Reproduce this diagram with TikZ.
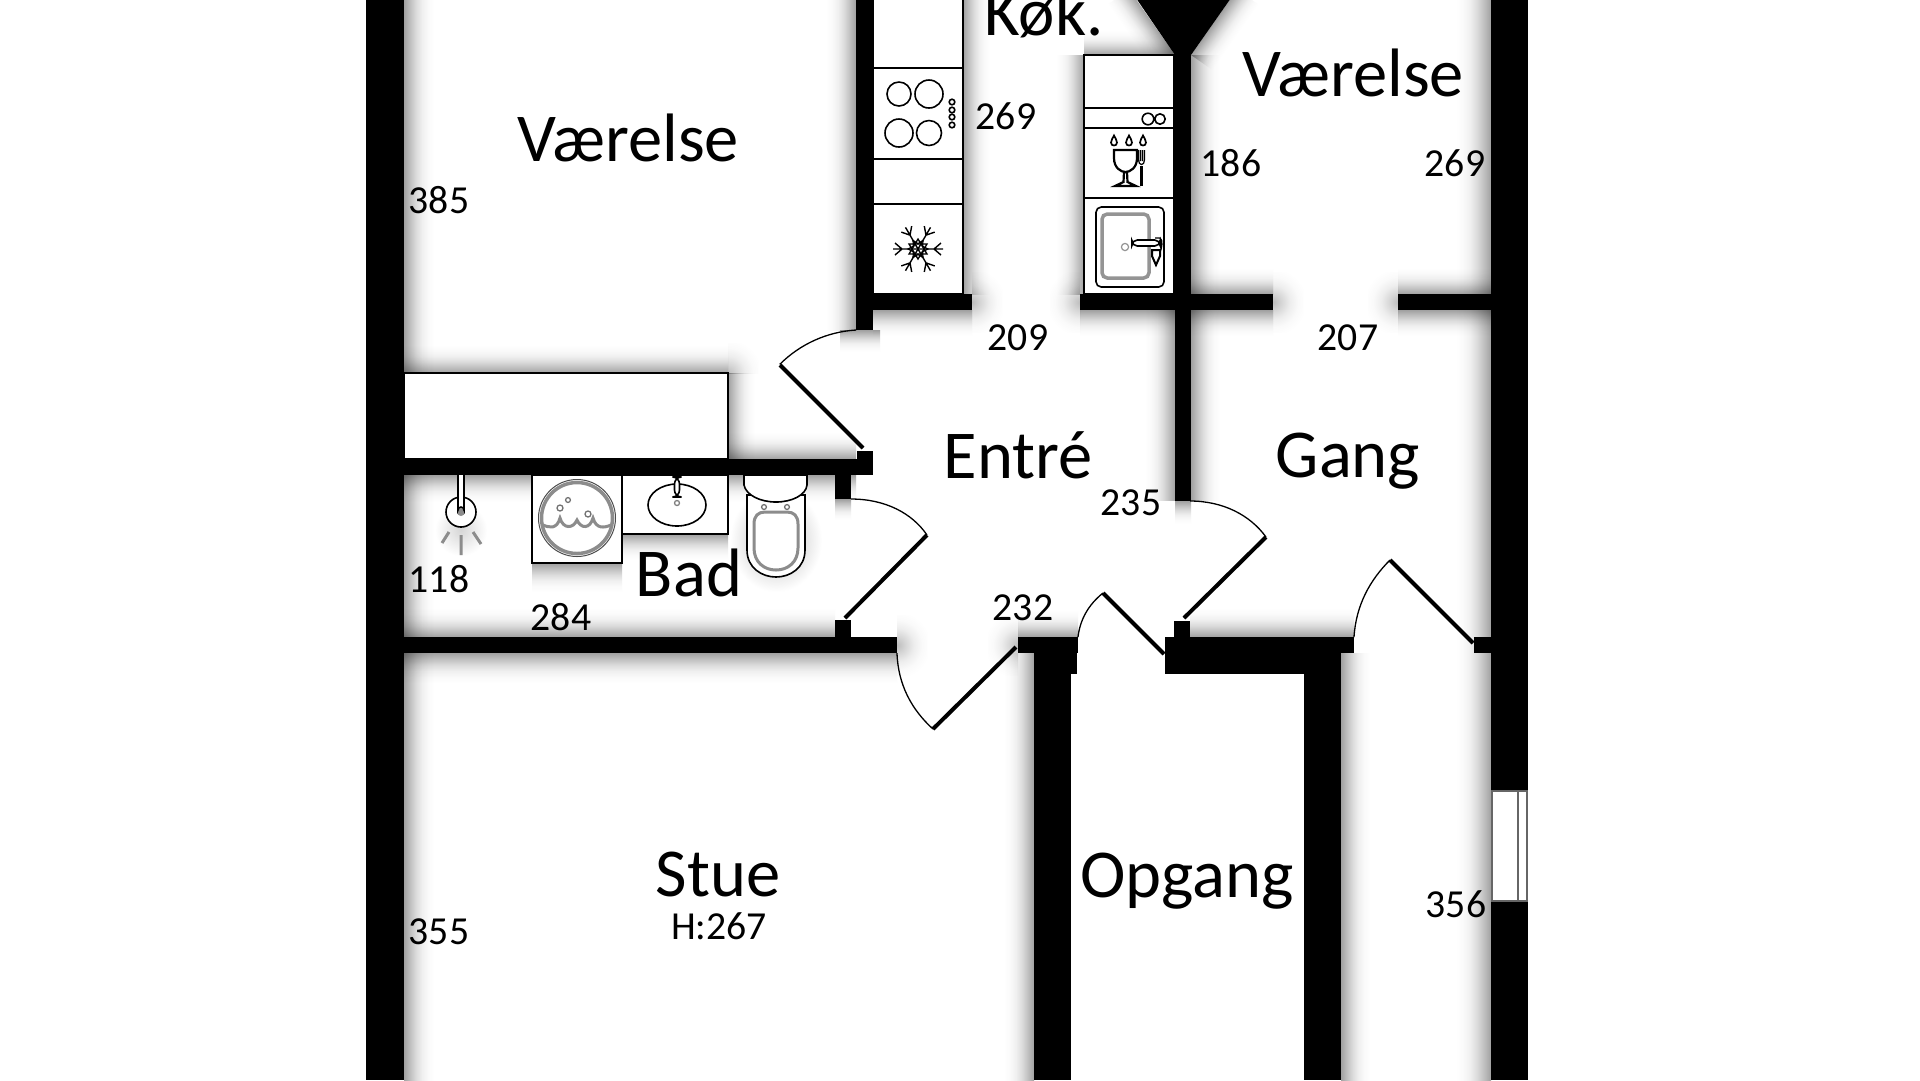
\documentclass[tikz,border=0pt]{standalone}
\usepackage{fontspec}
\setmainfont{Carlito}
\pgfdeclareverticalshading{softwall}{100bp}{color(0bp)=(white); color(25bp)=(white); color(35bp)=(black!2); color(45bp)=(black!6); color(55bp)=(black!14); color(65bp)=(black!25); color(75bp)=(black!37); color(100bp)=(black!37)}
\pgfdeclareradialshading{softend}{\pgfpoint{0bp}{0bp}}{color(0bp)=(black!26); color(7bp)=(black!16); color(14bp)=(black!7); color(21bp)=(black!2); color(28bp)=(white); color(100bp)=(white)}
\begin{document}
\begin{tikzpicture}[x=0.1mm,y=-0.1mm,
  wall/.style={fill=black,draw=none},
  fixture/.style={draw=black,line width=0.18mm,fill=white},
  thinline/.style={draw=black,line width=0.16mm},
  grayline/.style={draw=black!45,line width=0.3mm},
  leaf/.style={draw=black,line width=0.4mm},
  swing/.style={draw=black,line width=0.13mm},
  big/.style={font=\fontsize{19.5}{22}\selectfont,anchor=base,inner sep=0pt},
  small/.style={font=\fontsize{11.3}{13}\selectfont,anchor=base,inner sep=0pt},
  shR/.style={draw=none,shading=softwall,shading angle=90},
  shL/.style={draw=none,shading=softwall,shading angle=270},
  shD/.style={draw=none,shading=softwall,shading angle=0},
  shU/.style={draw=none,shading=softwall,shading angle=180},
  shE/.style={draw=none,shading=softend}]
\useasboundingbox (0,0) rectangle (1920,1080);
\clip (0,0) rectangle (1920,1080);
\fill[white] (0,0) rectangle (1920,1080);
% ---- soft shadows
\begin{scope}[blend mode=multiply]
% shadow to the right of a wall
\foreach \xa/\xb/\ya/\yb in {404/434/0/1080,1341/1370/653/1080,1191/1220/55/500,963/990/0/294,728/755/373/459}{
  \shade[shR] (\xa,\ya) rectangle (\xb,\yb);}
% shadow to the left of a wall
\foreach \xa/\xb/\ya/\yb in {826/856/0/330,1004/1034/653/1080,1456/1491/0/1080,1145/1175/310/500,1056/1084/55/294}{
  \shade[shL] (\xa,\ya) rectangle (\xb,\yb);}
% shadow below a wall
\foreach \xa/\xb/\ya/\yb in {404/897/653/683,404/856/475/502,873/972/310/336,1080/1273/310/336,1398/1491/310/336,532/622/563/592,622/728/534/560,840/880/330/352,1175/1191/501/524,835/851/499/520}{
  \shade[shD] (\xa,\ya) rectangle (\xb,\yb);}
% shadow above a wall
\foreach \xa/\xb/\ya/\yb in {404/835/608/637,404/728/345/373,728/856/432/459,1018/1078/610/637,1190/1354/608/637,1084/1174/30/55,1191/1273/268/294,1398/1491/268/294}{
  \shade[shU] (\xa,\ya) rectangle (\xb,\yb);}
% soft ends of walls
\foreach \cx/\cy/\dx in {972/302/1,1080/302/-1,1273/302/1,1398/302/-1,897/645/1,1018/645/-1}{
  \begin{scope}
  \clip (\cx,\cy-40) rectangle (\cx+\dx*40,\cy+40);
  \shade[shE] (\cx-30,\cy-30) rectangle (\cx+30,\cy+30);
  \end{scope}}
% soft corner of the closet
\begin{scope}
  \clip (728,340) rectangle (760,373);
  \shade[shE] (698,343) rectangle (758,403);
\end{scope}
% shadows along the slanted wall
\begin{scope}[transform canvas={shift={(1191,55)},rotate=-35}]
  \shade[shR] (0,-80) rectangle (26,0);
\end{scope}
\begin{scope}[transform canvas={shift={(1175,55)},rotate=35}]
  \shade[shL] (-26,-80) rectangle (0,0);
\end{scope}
% fixture halos
\shade[draw=none,inner color=black!16,outer color=white] (461,530) circle (26);
\shade[draw=none,inner color=black!28,outer color=white] (776,540) ellipse (46 and 52);
\end{scope}
% Opgang stays clean white
\fill[white] (1071,653) rectangle (1164,674);
\fill[white] (1071,674) rectangle (1304,1080);
% ---- kitchen, left run
\draw[fixture] (873,-5) rectangle (963,294);
\draw[thinline] (873,68) -- (963,68) (873,159) -- (963,159) (873,204) -- (963,204);
\foreach \cx/\cy/\r in {899/94/12,929/94/14,899/133/14,929/133/12.5}{\draw[thinline] (\cx,\cy) circle (\r);}
\foreach \cy in {102,110,117,125}{\draw[thinline] (952,\cy) circle (2.8);}
% snowflake
\begin{scope}[shift={(918,249)}]
\foreach \a in {0,60,...,300}{
  \begin{scope}[rotate=\a]
  \draw[line width=0.14mm] (0,0) -- (25,0) (16,0) -- (23,-6) (16,0) -- (23,6);
  \draw[line width=0.12mm] (4,-3) -- (10,0) -- (4,3);
  \end{scope}}
\draw[line width=0.13mm] (0,-10) -- (9,5) -- (-9,5) -- cycle (0,10) -- (9,-5) -- (-9,-5) -- cycle;
\end{scope}
% ---- kitchen, right run
\draw[fixture] (1084,55) rectangle (1174,294);
\draw[thinline] (1084,108) -- (1174,108) (1084,128) -- (1174,128) (1084,198) -- (1174,198);
\draw[thinline] (1148,119) circle (5.8) (1160,119) circle (5.2);
\foreach \cx in {1114,1129,1143}{
  \draw[line width=0.17mm] (\cx,135.5) .. controls (\cx+1,138) and (\cx+3,140) .. (\cx+3,142.5) .. controls (\cx+3,146.5) and (\cx-3,146.5) .. (\cx-3,142.5) .. controls (\cx-3,140) and (\cx-1,138) .. cycle;}
\draw[line width=0.22mm] (1114,150) -- (1137,150) -- (1137,158) .. controls (1137,168) and (1130,172) .. (1125.5,172) .. controls (1121,172) and (1114,168) .. (1114,158) -- cycle;
\draw[line width=0.22mm] (1124,172) -- (1123.5,182) -- (1115,186) -- (1136,186) -- (1127.5,182) -- (1127,172);
\draw[line width=0.22mm] (1141.5,186) -- (1141.5,166);
\draw[line width=0.12mm] (1138.5,150) -- (1138.5,160) .. controls (1138.5,166) and (1144.5,166) .. (1144.5,160) -- (1144.5,150) (1140.5,150) -- (1140.5,161) (1142.5,150) -- (1142.5,161);
\draw[thinline,rounded corners=1.5] (1096,207) rectangle (1164,287);
\draw[draw=black!42,line width=0.35mm,rounded corners=1.5] (1102,214) rectangle (1149,278);
\draw[draw=black!42,line width=0.12mm] (1125,247) circle (3.6);
\draw[thinline,fill=white,rounded corners=1.5] (1132,240) rectangle (1160,246);
\draw[line width=0.2mm,fill=white] (1152,250) -- (1160,250) -- (1160,256) -- (1156,265) -- (1152,256) -- cycle;
\draw[line width=0.14mm] (1155,238) -- (1160,238) .. controls (1163,240) and (1162,248) .. (1160,252);
% ---- closet
\draw[fixture] (404,373) rectangle (728,459);
% ---- bathroom fixtures
\draw[thinline,fill=white] (461,512) circle (15);
\fill[black!45] (461,512) circle (4);
\draw[thinline,fill=white] (458,470) -- (458,510) arc[start angle=180,end angle=360,radius=3] -- (464,470);
\draw[grayline] (461,535) -- (461,555) (449,532) -- (442,543) (473,532) -- (481,544);
\draw[fixture] (532,475) rectangle (622,563);
\draw[draw=black!70,line width=0.1mm] (577,518) circle (38.5);
\draw[draw=black!45,line width=0.35mm] (577,518) circle (35.5);
\draw[draw=black!45,line width=0.3mm] (543,525) .. controls (550,528) and (557,529) .. (560,518) .. controls (563,529) and (573,529) .. (577,520) .. controls (581,529) and (590,529) .. (593,518) .. controls (596,529) and (604,528) .. (611,525);
\foreach \cx/\cy/\r in {560/508/3,568/500/2.4,588/514/3}{\draw[draw=black!55,line width=0.13mm] (\cx,\cy) circle (\r);}
\draw[fixture] (622,475) rectangle (728,534);
\draw[thinline] (677,505) ellipse (29 and 21);
\draw[thinline,fill=white,rounded corners=2] (674.5,477) rectangle (679.5,497);
\draw[draw=black!50,line width=0.13mm] (677,503) circle (2.5);
% toilet
\draw[thinline,fill=white] (747,495) -- (747,550) .. controls (747,568) and (762,577) .. (776,577) .. controls (790,577) and (805,568) .. (805,550) -- (805,495) -- cycle;
\draw[thinline,fill=white] (744,475) -- (744,485) .. controls (746,495) and (760,502) .. (776,502) .. controls (792,502) and (806,495) .. (807,485) -- (807,475) -- cycle;
\draw[draw=black!45,line width=0.3mm] (754,524) .. controls (754,516) and (758,512) .. (765,512) -- (787,512) .. controls (794,512) and (798,516) .. (798,524) -- (798,548) .. controls (798,562) and (788,570) .. (776,570) .. controls (764,570) and (754,562) .. (754,548) -- cycle;
\draw[draw=black!55,line width=0.13mm] (764,507) circle (2.4) (787,507) circle (2.4);
% ---- doors
\draw[swing] (856,330) arc[start angle=-93.5,end angle=-135,radius=118];
\draw[leaf] (780,365) -- (863,448);
\draw[swing] (851,499) .. controls (885,499) and (912,513) .. (927,535);
\draw[leaf] (927,535) -- (845,618);
\draw[swing] (897,653) .. controls (898,685) and (912,710) .. (933,729);
\draw[leaf] (933,729) -- (1016,647);
\draw[swing] (1078,637) .. controls (1080,620) and (1088,605) .. (1103,593);
\draw[leaf] (1103,593) -- (1164,654);
\draw[swing] (1190,501) .. controls (1223,501) and (1250,515) .. (1266,537);
\draw[leaf] (1266,537) -- (1184,618);
\draw[swing] (1354,637) .. controls (1356,605) and (1370,580) .. (1390,560);
\draw[leaf] (1390,560) -- (1473,643);
% ---- walls
\fill[wall] (366,0) rectangle (404,1080);
\fill[wall] (1491,0) rectangle (1528,1080);
\fill[wall] (856,0) rectangle (873,330);
\fill[wall] (856,294) rectangle (972,310);
\fill[wall] (1080,294) rectangle (1273,310);
\fill[wall] (1398,294) rectangle (1491,310);
\fill[wall] (1175,53) rectangle (1191,501);
\fill[wall] (1136,-2) -- (1231,-2) -- (1191,55) -- (1175,55) -- cycle;
\fill[wall] (404,459) rectangle (873,475);
\fill[wall] (857,451) rectangle (873,475);
\fill[wall] (835,475) rectangle (851,499);
\fill[wall] (835,620) rectangle (851,637);
\fill[wall] (404,637) rectangle (897,653);
\fill[wall] (1018,637) rectangle (1078,653);
\fill[wall] (1034,653) rectangle (1077,674);
\fill[wall] (1034,674) rectangle (1071,1080);
\fill[wall] (1174,621) rectangle (1190,637);
\fill[wall] (1165,637) rectangle (1354,653);
\fill[wall] (1165,653) rectangle (1341,674);
\fill[wall] (1304,674) rectangle (1341,1080);
\fill[wall] (1474,637) rectangle (1491,653);
% window
\fill[white] (1492,791) rectangle (1527,901);
\draw[draw=black!60,line width=0.12mm] (1492,791) rectangle (1527,901);
\draw[draw=black!60,line width=0.12mm] (1518,791) -- (1518,901);
% ---- labels
\node[big] (t1) at (628,161) {Værelse};
\node[big] (t2) at (1044,35) {Køk.};
\node[big] (t3) at (1353,96) {Værelse};
\node[big] (t4) at (1018,478) {Entré};
\node[big] (t5) at (1348,477) {Gang};
\node[big] (t6) at (689,596) {Bad};
\node[big] (t7) at (718,896) {Stue};
\node[big] (t8) at (1187,897) {Opgang};
\node[small] (n1) at (1006,129) {269};
\node[small] (n2) at (1231,176) {186};
\node[small] (n3) at (1455,176) {269};
\node[small] (n4) at (439,213) {385};
\node[small] (n5) at (1018,350) {209};
\node[small] (n6) at (1348,350) {207};
\node[small] (n7) at (1131,515) {235};
\node[small] (n8) at (439,592) {118};
\node[small] (n9) at (561,630) {284};
\node[small] (n10) at (1023,620) {232};
\node[small] (n11) at (719,939) {H:267};
\node[small] (n12) at (439,944) {355};
\node[small] (n13) at (1456,917) {356};
\end{tikzpicture}
\end{document}
